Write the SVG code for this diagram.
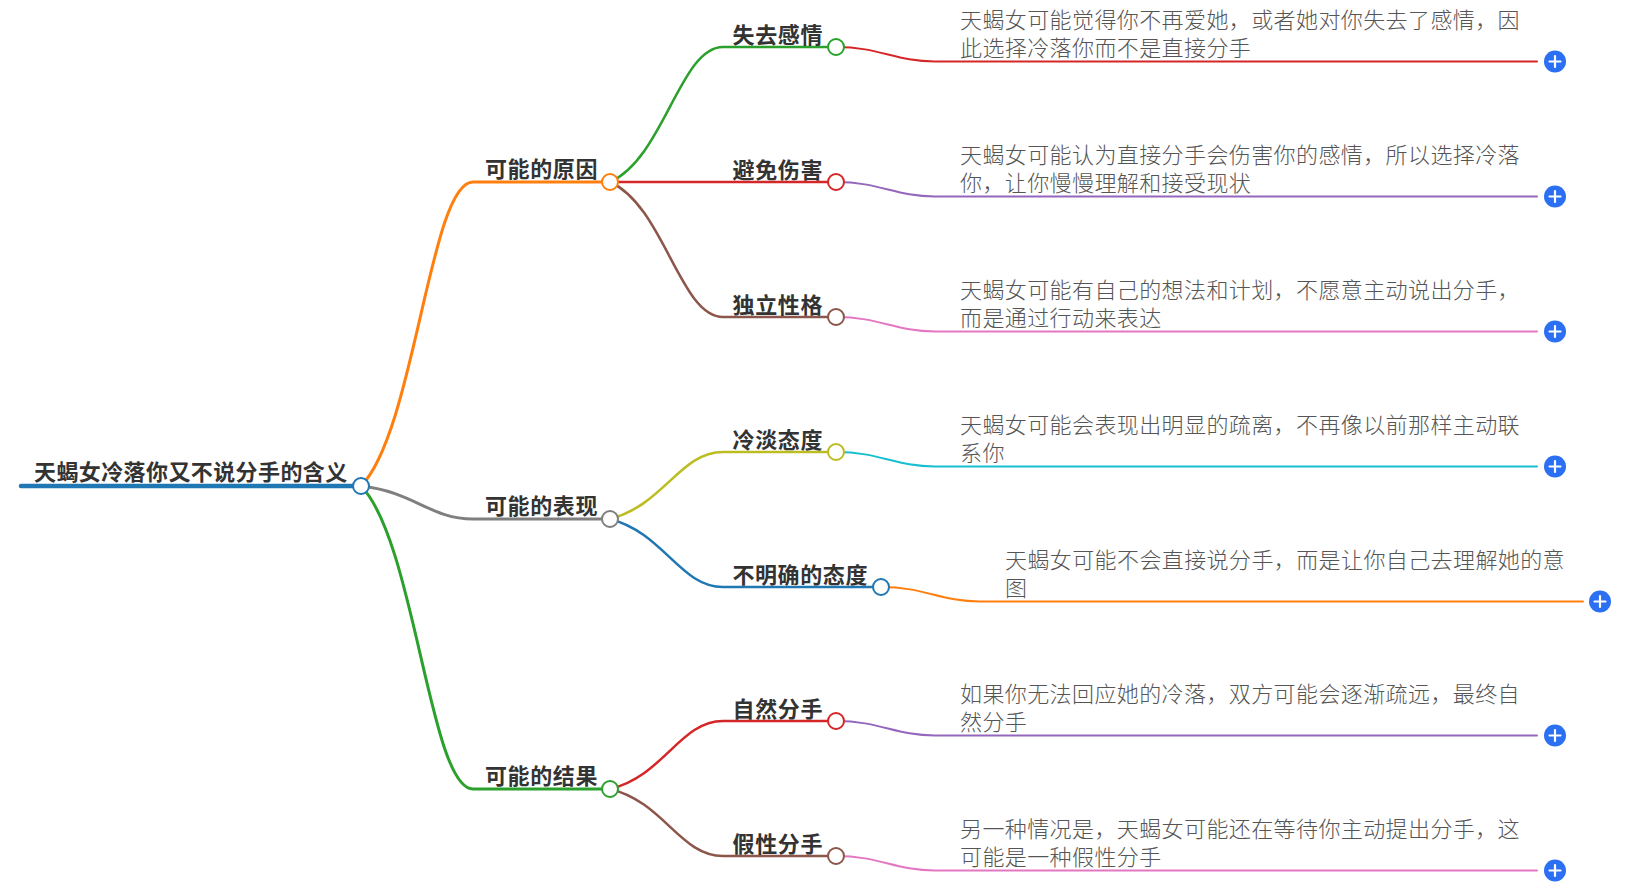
<svg xmlns="http://www.w3.org/2000/svg" width="1625" height="888" viewBox="0 0 1625 888">
<style>
.bg{fill:#ffffff}
.edge{fill:none;stroke-linecap:round}
.l1{stroke-width:3}
.l2{stroke-width:2.5}
.l3{stroke-width:2}
.dot{fill:#ffffff;stroke-width:2}
.t0{font-family:"Noto Sans CJK SC","Noto Sans",sans-serif;font-size:22px;font-weight:bold;fill:#333333;letter-spacing:0.4px}
.t1{font-family:"Noto Sans CJK SC","Noto Sans",sans-serif;font-size:22px;font-weight:bold;fill:#333333;text-anchor:end;letter-spacing:0.6px}
.t3{font-family:"Noto Sans CJK SC","Noto Sans",sans-serif;font-size:22px;font-weight:300;fill:#555555;letter-spacing:0.4px}
.plus-c{fill:#2b6ff3}
.plus-l{stroke:#ffffff;stroke-width:2.2;stroke-linecap:round}
</style>
<defs>
<g id="plus"><circle class="plus-c" r="11"/><path class="plus-l" d="M-5.5 0H5.5M0 -5.5V5.5"/></g>
</defs>
<rect class="bg" width="1625" height="888"/>
<g id="connectors">
<path class="edge" d="M21 486H361" stroke="#1f77b4" stroke-width="4.5"/>
<path class="edge l1" stroke="#ff7f0e" d="M361 486C415 431,430 182,473 182H610"/>
<path class="edge l1" stroke="#7f7f7f" d="M361 486C415 492,430 519,473 519H610"/>
<path class="edge l1" stroke="#2ca02c" d="M361 486C415 541,430 789,473 789H610"/>
<path class="edge l2" stroke="#2ca02c" d="M610 182C664 158,680 47,723 47H836"/>
<path class="edge l2" stroke="#d62728" d="M610 182H836"/>
<path class="edge l2" stroke="#8c564b" d="M610 182C664 206,680 317,723 317H836"/>
<path class="edge l2" stroke="#bcbd22" d="M610 519C664 505,680 452,723 452H836"/>
<path class="edge l2" stroke="#1f77b4" d="M610 519C664 533,680 587,723 587H881"/>
<path class="edge l2" stroke="#d62728" d="M610 789C664 776,680 721,723 721H836"/>
<path class="edge l2" stroke="#8c564b" d="M610 789C664 802,680 856,723 856H836"/>
<path class="edge l3" stroke="#d62728" d="M836 47C880 47,895 61.5,935 61.5H1537"/>
<path class="edge l3" stroke="#9467bd" d="M836 182C880 182,895 196.5,935 196.5H1537"/>
<path class="edge l3" stroke="#e377c2" d="M836 317C880 317,895 331.5,935 331.5H1537"/>
<path class="edge l3" stroke="#17becf" d="M836 452C880 452,895 466.5,935 466.5H1537"/>
<path class="edge l3" stroke="#ff7f0e" d="M881 587C925 587,940 601.5,980 601.5H1583"/>
<path class="edge l3" stroke="#9467bd" d="M836 721C880 721,895 735.5,935 735.5H1537"/>
<path class="edge l3" stroke="#e377c2" d="M836 856C880 856,895 870.5,935 870.5H1537"/>
</g>
<g id="root">
<text class="t0" x="34" y="480">天蝎女冷落你又不说分手的含义</text>
<circle class="dot" cx="361" cy="486" r="8" stroke="#1f77b4"/>
</g>
<g id="n-reason">
<text class="t1" x="598" y="177">可能的原因</text>
<circle class="dot" cx="610" cy="182" r="8" stroke="#ff7f0e"/>
</g>
<g id="n-show">
<text class="t1" x="598" y="514">可能的表现</text>
<circle class="dot" cx="610" cy="519" r="8" stroke="#7f7f7f"/>
</g>
<g id="n-result">
<text class="t1" x="598" y="784">可能的结果</text>
<circle class="dot" cx="610" cy="789" r="8" stroke="#2ca02c"/>
</g>
<g id="n-lose">
<text class="t1" x="823" y="43">失去感情</text>
<circle class="dot" cx="836" cy="47" r="8" stroke="#2ca02c"/>
</g>
<g id="n-avoid">
<text class="t1" x="823" y="178">避免伤害</text>
<circle class="dot" cx="836" cy="182" r="8" stroke="#d62728"/>
</g>
<g id="n-indep">
<text class="t1" x="823" y="313">独立性格</text>
<circle class="dot" cx="836" cy="317" r="8" stroke="#8c564b"/>
</g>
<g id="n-cold">
<text class="t1" x="823" y="448">冷淡态度</text>
<circle class="dot" cx="836" cy="452" r="8" stroke="#bcbd22"/>
</g>
<g id="n-unclear">
<text class="t1" x="868" y="583">不明确的态度</text>
<circle class="dot" cx="881" cy="587" r="8" stroke="#1f77b4"/>
</g>
<g id="n-natural">
<text class="t1" x="823" y="717">自然分手</text>
<circle class="dot" cx="836" cy="721" r="8" stroke="#d62728"/>
</g>
<g id="n-fake">
<text class="t1" x="823" y="852">假性分手</text>
<circle class="dot" cx="836" cy="856" r="8" stroke="#8c564b"/>
</g>
<g id="leaf-1">
<text class="t3" x="960" y="27.5">天蝎女可能觉得你不再爱她，或者她对你失去了感情，因</text>
<text class="t3" x="960" y="55.5">此选择冷落你而不是直接分手</text>
<use href="#plus" x="1555" y="61.5"/>
</g>
<g id="leaf-2">
<text class="t3" x="960" y="162.5">天蝎女可能认为直接分手会伤害你的感情，所以选择冷落</text>
<text class="t3" x="960" y="190.5">你，让你慢慢理解和接受现状</text>
<use href="#plus" x="1555" y="196.5"/>
</g>
<g id="leaf-3">
<text class="t3" x="960" y="297.5">天蝎女可能有自己的想法和计划，不愿意主动说出分手，</text>
<text class="t3" x="960" y="325.5">而是通过行动来表达</text>
<use href="#plus" x="1555" y="331.5"/>
</g>
<g id="leaf-4">
<text class="t3" x="960" y="432.5">天蝎女可能会表现出明显的疏离，不再像以前那样主动联</text>
<text class="t3" x="960" y="460.5">系你</text>
<use href="#plus" x="1555" y="466.5"/>
</g>
<g id="leaf-5">
<text class="t3" x="1005" y="567.5">天蝎女可能不会直接说分手，而是让你自己去理解她的意</text>
<text class="t3" x="1005" y="595.5">图</text>
<use href="#plus" x="1600" y="601.5"/>
</g>
<g id="leaf-6">
<text class="t3" x="960" y="701.5">如果你无法回应她的冷落，双方可能会逐渐疏远，最终自</text>
<text class="t3" x="960" y="729.5">然分手</text>
<use href="#plus" x="1555" y="735.5"/>
</g>
<g id="leaf-7">
<text class="t3" x="960" y="836.5">另一种情况是，天蝎女可能还在等待你主动提出分手，这</text>
<text class="t3" x="960" y="864.5">可能是一种假性分手</text>
<use href="#plus" x="1555" y="870.5"/>
</g>
</svg>
